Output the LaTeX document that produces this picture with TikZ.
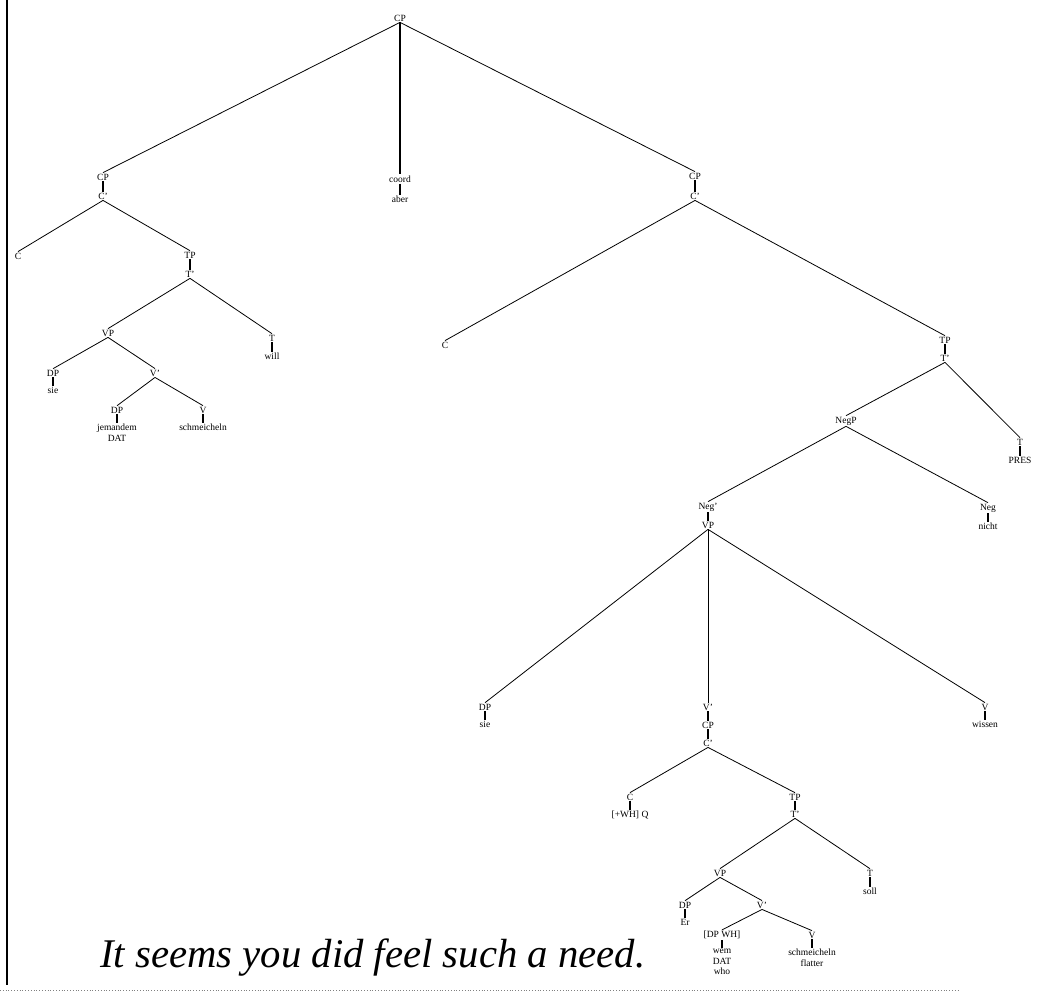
\documentclass[tikz,border=0pt]{standalone}
\usepackage{fontspec}
\setmainfont{Liberation Serif}
\begin{document}
\begin{tikzpicture}[x=1pt,y=-1pt,
  lab/.style={inner sep=1pt, font=\fontsize{9.5}{10.5}\selectfont, align=center},
  term/.style={lab, anchor=north},
  br/.style={line width=0.8pt},
  un/.style={line width=1.2pt}]
\useasboundingbox (0,0) rectangle (1060,994);
% left margin line and scan edge
\draw[line width=1.2pt] (7,0) -- (7,985);
\draw[gray, dotted, line width=0.8pt] (0,990) -- (960,990);
% top
\node[lab] (r) at (400,18) {CP};
\node[lab] (lcp) at (103,177) {CP};
\node[lab] (lcb) at (103,196) {C'};
\node[lab] (crd) at (400,179) {coord};
\node[term] (aber) at (400,195) {aber};
\node[lab] (rcp) at (695,176) {CP};
\node[lab] (rcb) at (695,196) {C'};
% left subtree
\node[lab] (lc) at (18,256) {C};
\node[lab] (ltp) at (190,255) {TP};
\node[lab] (ltb) at (190,274) {T'};
\node[lab] (lvp) at (108,333) {VP};
\node[lab] (lt) at (272,338) {T};
\node[term] (will) at (272,352) {will};
\node[lab] (ldp1) at (53,373) {DP};
\node[term] (sie1) at (53,386) {sie};
\node[lab] (lvb) at (155,373) {V'};
\node[lab] (ldp2) at (117,410) {DP};
\node[term] (jem) at (117,423) {jemandem\\DAT};
\node[lab] (lv) at (203,410) {V};
\node[term] (schm1) at (203,423) {schmeicheln};
% right subtree
\node[lab] (rc) at (445,345) {C};
\node[lab] (rtp) at (945,340) {TP};
\node[lab] (rtb) at (945,358) {T'};
\node[lab] (negp) at (846,421) {NegP};
\node[lab] (rt) at (1020,442) {T};
\node[term] (pres) at (1020,456) {PRES};
\node[lab] (negb) at (708,507) {Neg'};
\node[lab] (rvp) at (708,525) {VP};
\node[lab] (neg) at (988,508) {Neg};
\node[term] (nicht) at (988,522) {nicht};
\node[lab] (rdp) at (485,707) {DP};
\node[term] (sie2) at (485,720) {sie};
\node[lab] (rvb) at (708,707) {V'};
\node[lab] (cp2) at (708,725) {CP};
\node[lab] (cb2) at (708,743) {C'};
\node[lab] (rv) at (985,707) {V};
\node[term] (wissen) at (985,720) {wissen};
\node[lab] (c3) at (630,797) {C};
\node[term] (whq) at (630,810) {[+WH] Q};
\node[lab] (tp3) at (795,797) {TP};
\node[lab] (tb3) at (795,814) {T'};
\node[lab] (vp3) at (720,873) {VP};
\node[lab] (t3) at (870,873) {T};
\node[term] (soll) at (870,887) {soll};
\node[lab] (dp3) at (685,905) {DP};
\node[term] (er) at (685,918) {Er};
\node[lab] (vb3) at (762,905) {V'};
\node[lab] (dpwh) at (722,935) {[DP WH]};
\node[term] (wem) at (722,948) {wem\\DAT\\who};
\node[lab] (v3) at (812,935) {V};
\node[term] (schm2) at (812,948) {schmeicheln\\flatter};
% edges
\foreach \a/\b in {r/lcp, r/rcp, lcb/lc, lcb/ltp, ltb/lvp, ltb/lt, lvp/ldp1, lvp/lvb, lvb/ldp2, lvb/lv,
  rcb/rc, rcb/rtp, rtb/negp, rtb/rt, negp/negb, negp/neg, rvp/rdp, rvp/rvb, rvp/rv,
  cb2/c3, cb2/tp3, tb3/vp3, tb3/t3, vp3/dp3, vp3/vb3, vb3/dpwh, vb3/v3}
  \draw[br] (\a.south) -- (\b.north);
\foreach \a/\b in {r/crd, lcp/lcb, crd/aber, rcp/rcb, ltp/ltb, lt/will, ldp1/sie1, ldp2/jem, lv/schm1,
  rtp/rtb, rt/pres, negb/rvp, neg/nicht, rdp/sie2, rvb/cp2, cp2/cb2, rv/wissen, c3/whq, tp3/tb3,
  t3/soll, dp3/er, dpwh/wem, v3/schm2}
  \draw[un] (\a.south) -- (\b.north);
% handwritten remark
\node[inner sep=0pt, anchor=west] (note) at (100,958) {\resizebox{545pt}{!}{\itshape It seems you did feel such a need.}};
\end{tikzpicture}
\end{document}
